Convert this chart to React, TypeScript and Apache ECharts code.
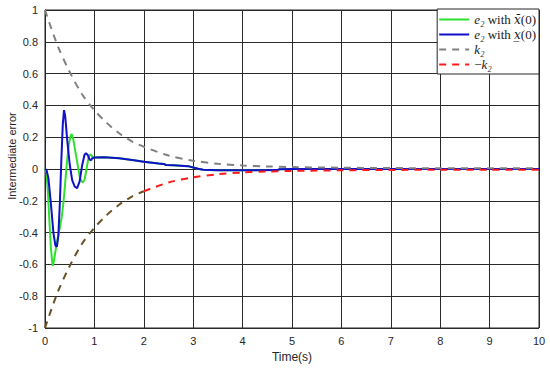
import React, { useEffect, useRef } from "react";
import * as echarts from "echarts";

const xTicks = [0, 1, 2, 3, 4, 5, 6, 7, 8, 9, 10];
const yTicks = [-1, -0.8, -0.6, -0.4, -0.2, 0, 0.2, 0.4, 0.6, 0.8, 1];

const blueE2: [number, number][] = [
  [0, 0], [0.03, -0.005], [0.07, -0.06], [0.12, -0.22], [0.17, -0.4], [0.21, -0.48],
  [0.24, -0.49], [0.27, -0.42], [0.3, -0.22], [0.33, 0.05], [0.36, 0.28], [0.385, 0.37],
  [0.41, 0.33], [0.45, 0.18], [0.5, 0.03], [0.55, -0.07], [0.6, -0.11], [0.65, -0.12],
  [0.7, -0.08], [0.75, 0.02], [0.8, 0.09], [0.83, 0.1], [0.87, 0.085], [0.9, 0.06],
  [0.93, 0.055], [0.96, 0.068], [1.0, 0.072], [1.2, 0.074], [1.5, 0.068], [1.8, 0.055],
  [2.0, 0.045], [2.3, 0.035], [2.4, 0.032], [2.45, 0.025], [2.6, 0.023], [2.9, 0.018],
  [3.0, 0.01], [3.1, 0.002], [3.2, -0.005], [3.5, -0.008], [4.0, -0.008], [4.7, -0.007],
  [4.75, -0.002], [5, 0], [6, 0], [7, 0], [8, 0], [9, 0], [10, 0],
];

const greenE2: [number, number][] = [
  [0, 0], [0.03, -0.02], [0.06, -0.15], [0.09, -0.33], [0.12, -0.5], [0.155, -0.61],
  [0.18, -0.58], [0.22, -0.5], [0.26, -0.43], [0.3, -0.37], [0.34, -0.3], [0.37, -0.22],
  [0.4, -0.12], [0.44, 0.03], [0.48, 0.15], [0.52, 0.21], [0.54, 0.22], [0.57, 0.19],
  [0.62, 0.1], [0.67, 0.01], [0.71, -0.06], [0.76, -0.085], [0.8, -0.07], [0.84, 0.0],
  [0.88, 0.07], [0.91, 0.092], [0.94, 0.085], [0.97, 0.075], [1.0, 0.072],
];

const k2: [number, number][] = [
  [0, 1], [0.25, 0.78], [0.5, 0.61], [0.75, 0.47], [1, 0.37], [1.25, 0.29], [1.5, 0.225],
  [1.75, 0.175], [2, 0.14], [2.5, 0.085], [3, 0.052], [3.5, 0.033], [4, 0.022], [4.5, 0.016],
  [5, 0.012], [6, 0.008], [7, 0.006], [8, 0.005], [9, 0.005], [10, 0.005],
];

const negK2Early: [number, number][] = [
  [0, -1], [0.25, -0.78], [0.5, -0.61], [0.75, -0.47], [1, -0.37], [1.25, -0.29],
  [1.5, -0.225], [1.75, -0.175], [2, -0.14],
];

const negK2Late: [number, number][] = [
  [2, -0.14], [2.5, -0.085], [3, -0.052], [3.5, -0.033], [4, -0.022], [4.5, -0.016],
  [5, -0.012], [6, -0.008], [7, -0.006], [8, -0.005], [9, -0.005], [10, -0.005],
];

const legendNames = ["g", "b", "k", "m"];
const legendTexts: Record<string, string> = {
  g: "{i|e₂}{r| with }{x|x̄}{r|(0)}",
  b: "{i|e₂}{r| with }{x|x̲}{r|(0)}",
  k: "{i|k₂}",
  m: "{r|−}{i|k₂}",
};

export default function App() {
  const ref = useRef<HTMLDivElement>(null);
  useEffect(() => {
    if (!ref.current) return;
    const chart = echarts.init(ref.current, undefined, { renderer: "svg" });
    const sans = "Liberation Sans, Arial, sans-serif";
    const serif = "'Liberation Serif', 'Times New Roman', serif";
    const dserif = "'DejaVu Serif', serif";
    chart.setOption({
      animation: false,
      backgroundColor: "#ffffff",
      grid: {
        left: 45, right: 11, top: 10, bottom: 42,
        show: true, borderColor: "#262626", borderWidth: 1,
      },
      xAxis: {
        type: "value", min: 0, max: 10, interval: 1,
        name: "Time(s)", nameLocation: "middle", nameGap: 22,
        nameTextStyle: { fontFamily: sans, fontSize: 12, color: "#262626" },
        axisLine: { show: true, lineStyle: { color: "#262626" } },
        axisTick: { show: false },
        axisLabel: {
          margin: 7, fontFamily: sans, fontSize: 11, color: "#262626",
          formatter: (v: number) => (xTicks.includes(v) ? String(v) : ""),
        },
        splitLine: { show: true, lineStyle: { color: "#2a2a2a", width: 1 } },
      },
      yAxis: {
        type: "value", min: -1, max: 1, interval: 0.2,
        axisLine: { show: true, lineStyle: { color: "#262626" } },
        axisTick: { show: false },
        axisLabel: {
          margin: 7, fontFamily: sans, fontSize: 11, color: "#262626",
          formatter: (v: number) => {
            const r = Math.round(v * 10) / 10;
            const found = yTicks.find((t) => Math.abs(t - r) < 1e-9);
            return found === undefined ? "" : String(found);
          },
        },
        splitLine: { show: true, lineStyle: { color: "#2a2a2a", width: 1 } },
      },
      graphic: [
        {
          type: "text", x: 12, y: 156, rotation: Math.PI / 2,
          style: {
            text: "Intermediate error", fontFamily: sans, fontSize: 11, fill: "#262626",
            align: "center", verticalAlign: "middle",
          },
        },
      ],
      legend: {
        data: legendNames,
        orient: "vertical",
        right: 11, top: 9,
        padding: [4, 3, 3, 1],
        itemGap: 2,
        itemWidth: 30, itemHeight: 14,
        backgroundColor: "#ffffff",
        borderColor: "#262626", borderWidth: 1, borderRadius: 0,
        itemStyle: { opacity: 0 },
        formatter: (n: string) => legendTexts[n],
        textStyle: {
          fontFamily: serif, fontSize: 13, color: "#222",
          rich: {
            i: { fontFamily: serif, fontStyle: "italic", fontSize: 13, color: "#222" },
            x: { fontFamily: dserif, fontStyle: "italic", fontSize: 12, color: "#222" },
            r: { fontFamily: serif, fontSize: 13, color: "#222" },
          },
        },
      },
      series: [
        {
          name: "g", type: "line", data: greenE2.concat(blueE2.slice(26)), showSymbol: false,
          symbol: "none", lineStyle: { color: "#2fe02f", width: 2 }, itemStyle: { color: "#2fe02f" },
        },
        {
          name: "b", type: "line", data: blueE2, showSymbol: false, symbol: "none",
          lineStyle: { color: "#1010c8", width: 2 }, itemStyle: { color: "#1010c8" },
        },
        {
          name: "k", type: "line", data: k2, showSymbol: false, symbol: "none", smooth: 0.3,
          lineStyle: { color: "#808080", width: 2, type: [7, 6] }, itemStyle: { color: "#808080" },
        },
        {
          name: "m", type: "line", data: negK2Late, showSymbol: false, symbol: "none", smooth: 0.3,
          lineStyle: { color: "#ff1a1a", width: 2, type: [7, 6] }, itemStyle: { color: "#ff1a1a" },
        },
        {
          name: "mEarly", type: "line", data: negK2Early, showSymbol: false, symbol: "none", smooth: 0.3,
          lineStyle: { color: "#6b5226", width: 2, type: [7, 6] }, itemStyle: { color: "#6b5226" },
        },
      ],
    });
    return () => chart.dispose();
  }, []);
  return <div ref={ref} style={{ width: 550, height: 370, position: "absolute", left: 0, top: 0 }} />;
}
